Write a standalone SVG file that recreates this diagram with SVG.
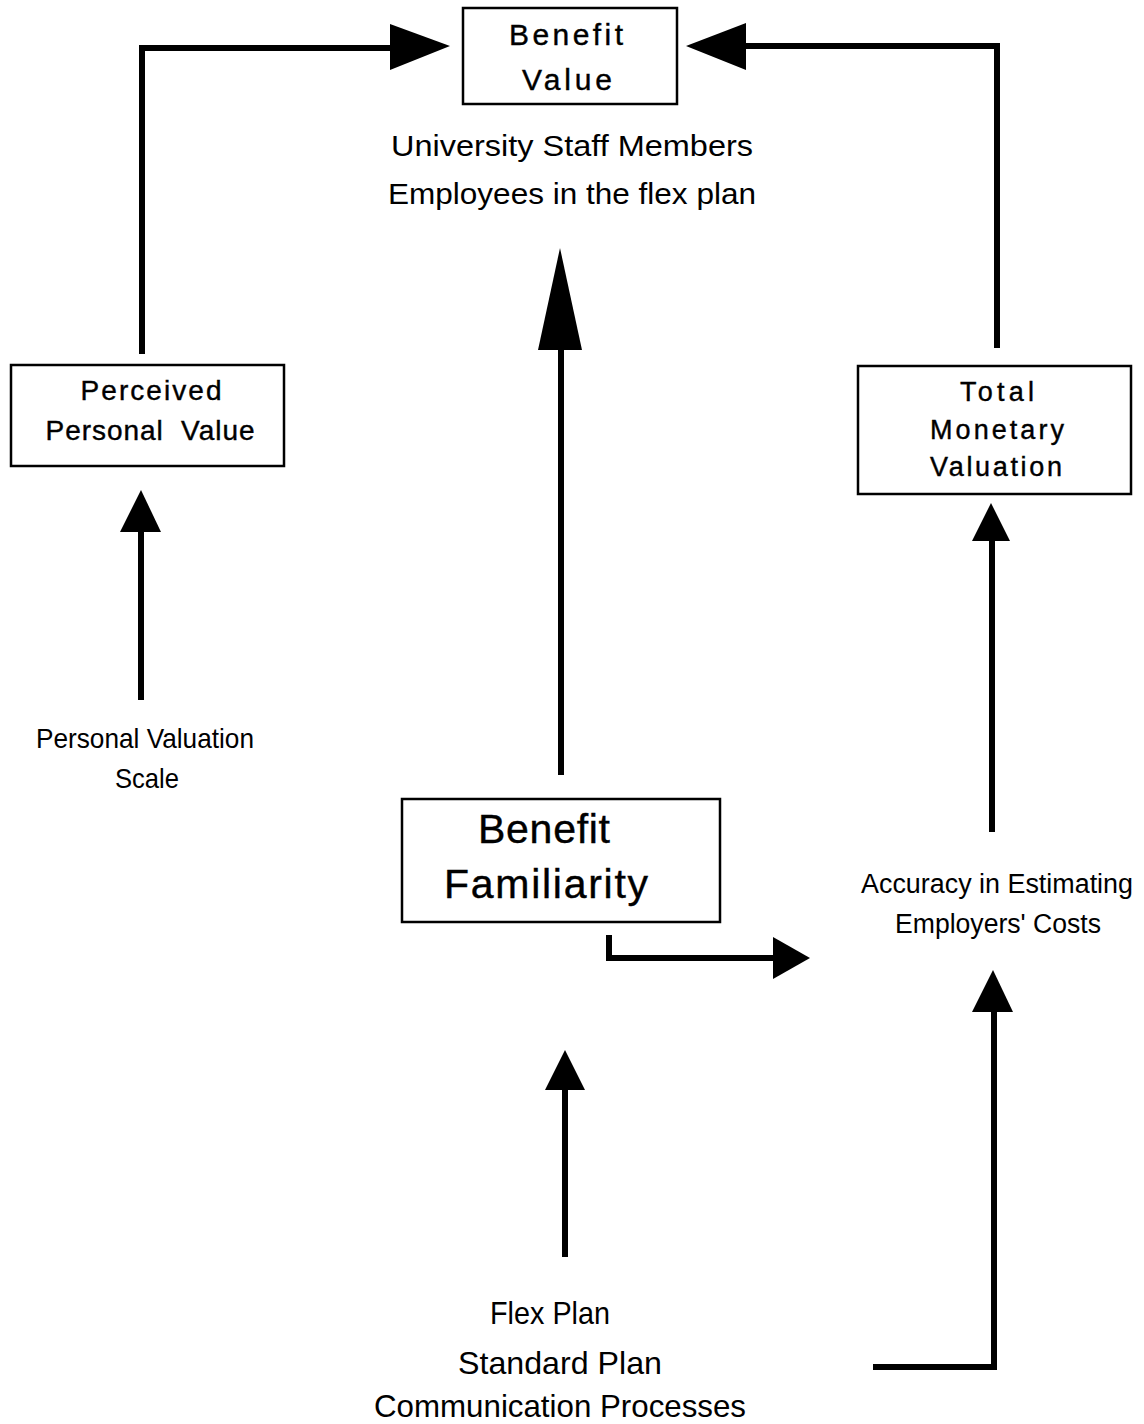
<svg xmlns="http://www.w3.org/2000/svg" width="1144" height="1424" viewBox="0 0 1144 1424">
<style>
.box{fill:#fff;stroke:#000;stroke-width:2.5}
.ln{fill:none;stroke:#000;stroke-width:6;stroke-linecap:butt;stroke-linejoin:miter}
.ah{fill:#000;stroke:none}
text{font-family:"Liberation Sans","DejaVu Sans",sans-serif;fill:#000;text-anchor:middle}
.bx{font-size:30px;stroke:#000;stroke-width:0.4}
.lb{font-size:30px}
</style>
<rect width="1144" height="1424" fill="#fff"/>
<g id="connectors">
<polyline class="ln" points="142,354 142,48 395,48"/>
<polygon class="ah" points="390,24 450,46 390,70"/>
<polyline class="ln" points="997,348 997,46 740,46"/>
<polygon class="ah" points="746,23 686,46 746,70"/>
<line class="ln" x1="561" y1="775" x2="561" y2="345"/>
<polygon class="ah" points="538,350 560,248 582,350"/>
<line class="ln" x1="141" y1="700" x2="141" y2="528"/>
<polygon class="ah" points="120,532 141,490 161,532"/>
<line class="ln" x1="992" y1="832" x2="992" y2="537"/>
<polygon class="ah" points="972,541 991,503 1010,541"/>
<polyline class="ln" points="609,935 609,958 778,958"/>
<polygon class="ah" points="773,937 810,958 773,979"/>
<polyline class="ln" points="873,1367 994,1367 994,1008"/>
<polygon class="ah" points="972,1012 993,970 1013,1012"/>
<line class="ln" x1="565" y1="1257" x2="565" y2="1086"/>
<polygon class="ah" points="545,1090 565,1050 585,1090"/>
</g>
<g id="benefit-value">
<rect class="box" x="463" y="8" width="214" height="96"/>
<text class="bx" x="566" y="45" textLength="114" lengthAdjust="spacing">Benefit</text>
<text class="bx" x="567" y="90" textLength="90" lengthAdjust="spacing">Value</text>
</g>
<g id="population">
<text class="lb" x="572" y="156" textLength="362" lengthAdjust="spacingAndGlyphs">University Staff Members</text>
<text class="lb" x="572" y="204" textLength="368" lengthAdjust="spacingAndGlyphs">Employees in the flex plan</text>
</g>
<g id="perceived-personal-value">
<rect class="box" x="11" y="365" width="273" height="101"/>
<text class="bx" x="151" y="400" style="font-size:28px" textLength="141" lengthAdjust="spacing">Perceived</text>
<text class="bx" x="150" y="440" style="font-size:28px" xml:space="preserve" textLength="209" lengthAdjust="spacing">Personal  Value</text>
</g>
<g id="total-monetary-valuation">
<rect class="box" x="858" y="366" width="273" height="128"/>
<text class="bx" x="997" y="401" style="font-size:27px" textLength="74" lengthAdjust="spacing">Total</text>
<text class="bx" x="997" y="439" style="font-size:27px" textLength="134" lengthAdjust="spacing">Monetary</text>
<text class="bx" x="996" y="476" style="font-size:27px" textLength="132" lengthAdjust="spacing">Valuation</text>
</g>
<g id="personal-valuation-scale">
<text class="lb" x="145" y="748" style="font-size:28px" textLength="218" lengthAdjust="spacingAndGlyphs">Personal Valuation</text>
<text class="lb" x="147" y="788" style="font-size:28px" textLength="64" lengthAdjust="spacingAndGlyphs">Scale</text>
</g>
<g id="benefit-familiarity">
<rect class="box" x="402" y="799" width="318" height="123"/>
<text class="bx" x="544" y="843" style="font-size:41px" textLength="132" lengthAdjust="spacing">Benefit</text>
<text class="bx" x="546" y="898" style="font-size:41px" textLength="204" lengthAdjust="spacing">Familiarity</text>
</g>
<g id="accuracy">
<text class="lb" x="997" y="893" style="font-size:27px" textLength="272" lengthAdjust="spacingAndGlyphs">Accuracy in Estimating</text>
<text class="lb" x="998" y="933" style="font-size:27px" textLength="206" lengthAdjust="spacingAndGlyphs">Employers' Costs</text>
</g>
<g id="plans">
<text class="lb" x="550" y="1324" style="font-size:32px" textLength="120" lengthAdjust="spacingAndGlyphs">Flex Plan</text>
<text class="lb" x="560" y="1374" style="font-size:32px" textLength="204" lengthAdjust="spacingAndGlyphs">Standard Plan</text>
<text class="lb" x="560" y="1417" style="font-size:32px" textLength="372" lengthAdjust="spacingAndGlyphs">Communication Processes</text>
</g>
</svg>
